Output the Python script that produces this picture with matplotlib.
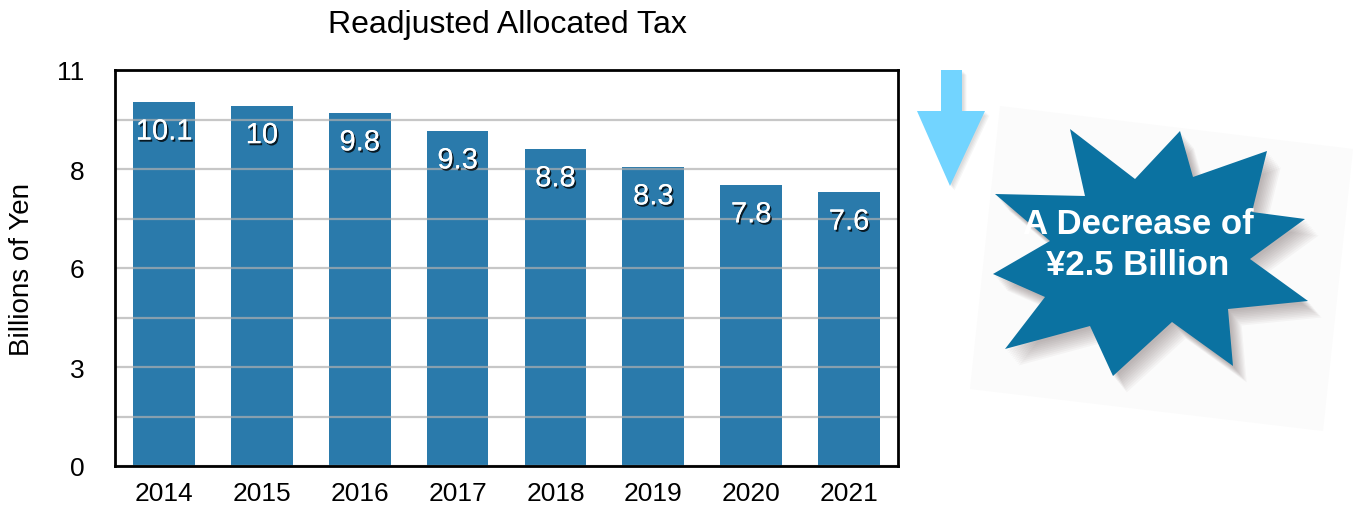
import matplotlib.pyplot as plt
import matplotlib.patheffects as pe
from matplotlib.patches import Polygon
import numpy as np

plt.rcParams['font.family'] = ['Liberation Sans', 'DejaVu Sans']

# data
years = ['2014', '2015', '2016', '2017', '2018', '2019', '2020', '2021']
tax = [10.1, 10, 9.8, 9.3, 8.8, 8.3, 7.8, 7.6]
y_ticks = np.linspace(0, 11, 9)
y_tick_labels = ['0', '', '3', '', '6', '', '8', '', '11']
callout = 'A Decrease of\n¥2.5 Billion'

bar_color = '#2a7aab'
star_color = '#0b72a1'
arrow_color = '#72d4ff'

fig = plt.figure(figsize=(13.61, 5.06), dpi=100)
ax = fig.add_axes([115 / 1361, 1 - 467 / 506, 783 / 1361, 396 / 506])

x = np.arange(len(years))
ax.bar(x, tax, width=0.63, color=bar_color, zorder=2)
ax.set_xlim(-0.5, len(years) - 0.5)
ax.set_ylim(0, 11)
ax.set_xticks(x)
ax.set_xticklabels(years, fontsize=19)
ax.set_yticks(y_ticks)
ax.set_yticklabels(y_tick_labels, fontsize=19)
ax.tick_params(axis='x', length=0, pad=11)
ax.tick_params(axis='y', length=0, pad=22)
ax.yaxis.grid(True, color='#b0b0b0', linewidth=1.6, alpha=0.7, zorder=3)
ax.set_axisbelow(False)
for s in ax.spines.values():
    s.set_linewidth(2)
    s.set_color('black')
    s.set_zorder(4)
ax.set_ylabel('Billions of Yen', fontsize=20, labelpad=16)
ax.set_title('Readjusted Allocated Tax', fontsize=23, pad=27, x=(507 - 115) / 783)

shadow = [pe.withSimplePatchShadow(offset=(1.2, -1.5), shadow_rgbFace='black', alpha=0.8), pe.Normal()]
for xi, v in zip(x, tax):
    ax.annotate(f'{v:g}', (xi, v), xytext=(0, -21), textcoords='offset points',
                ha='center', va='center', color='white', fontsize=21, zorder=5,
                path_effects=shadow)

# decorations in pixel coordinates
deco = fig.add_axes([0, 0, 1, 1], zorder=10)
deco.set_xlim(0, 1361)
deco.set_ylim(506, 0)
deco.axis('off')
deco.patch.set_alpha(0)

# faint tilted card behind the star
card = [(1000, 107), (1353, 150), (1323, 432), (970, 390)]
deco.add_patch(Polygon(card, closed=True, facecolor='#fbfbfb', edgecolor='none'))

# arrow
arrow = [(941, 71), (962, 71), (962, 112), (985, 112), (950, 187), (917, 112), (941, 112)]
for k in range(4):
    d = 1.5 + k
    deco.add_patch(Polygon([(px + d, py + d) for px, py in arrow], closed=True,
                           facecolor='#000000', alpha=0.035, edgecolor='none'))
deco.add_patch(Polygon(arrow, closed=True, facecolor=arrow_color, edgecolor='none'))

# star burst
star = [(1070, 130), (1135, 180), (1180, 132), (1193, 178), (1267, 152), (1252, 213),
        (1305, 220), (1250, 260), (1308, 302), (1228, 310), (1233, 367), (1172, 323),
        (1113, 377), (1090, 327), (1005, 350), (1045, 298), (993, 275), (1050, 242),
        (995, 195), (1085, 197)]
for k in range(10):
    d = 2 + k * 1.3
    deco.add_patch(Polygon([(px + d, py + d * 1.2) for px, py in star], closed=True,
                           facecolor='#4a3636', alpha=0.04, edgecolor='none'))
deco.add_patch(Polygon(star, closed=True, facecolor=star_color, edgecolor='none'))
deco.text(1138, 245, callout, ha='center', va='center', color='white',
          fontsize=25, fontweight='bold', linespacing=1.3)

fig.savefig('out.png', dpi=100)
